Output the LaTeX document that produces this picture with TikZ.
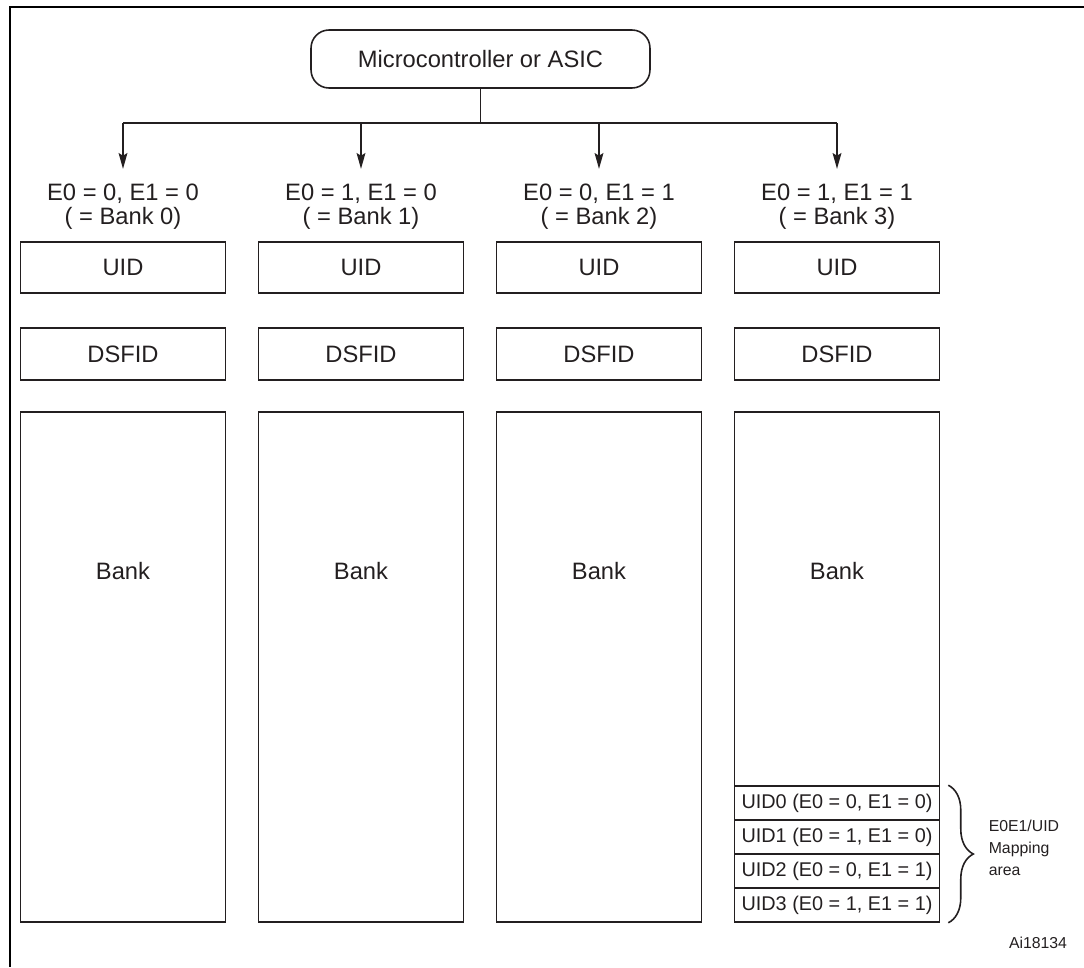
\documentclass[tikz,border=0pt]{standalone}
\usepackage{fontspec}
\setmainfont{Liberation Sans}
\usetikzlibrary{arrows.meta,decorations.pathreplacing}
\definecolor{ink}{HTML}{231F20}

\begin{document}
\begin{tikzpicture}[x=0.02cm, y=-0.02cm, line width=0.9pt, color=ink,
	>={Stealth[length=9pt, width=5pt, inset=1.5pt]}]
	\tikzstyle{every node} = [font=\fontsize{13.5}{16}\selectfont]
	\tikzstyle{cell} = [draw, rectangle, minimum width=4.1cm, inner sep=0pt]
	\tikzstyle{banklabel} = [align=center, inner ysep=8pt, font=\fontsize{13.5}{13.7}\selectfont]
	\tikzstyle{maprow} = [cell, minimum height=0.68cm, font=\fontsize{11.3}{13}\selectfont]
	\useasboundingbox (0,0) rectangle (1084,967);
	\draw [line width=1.7pt, black] (1084,7) -- (10,7) -- (10,967);

	\node [draw, rounded corners=0.36cm, minimum width=6.78cm, minimum height=1.16cm]
		(mcu) at (480.5,59) {Microcontroller or ASIC};
	\coordinate (bus) at (480.5,123);

	\node [banklabel] (lab0) at (123,206.5) {E0 = 0, E1 = 0\\( = Bank 0)};
	\node [banklabel] (lab1) at (361,206.5) {E0 = 1, E1 = 0\\( = Bank 1)};
	\node [banklabel] (lab2) at (599,206.5) {E0 = 0, E1 = 1\\( = Bank 2)};
	\node [banklabel] (lab3) at (837,206.5) {E0 = 1, E1 = 1\\( = Bank 3)};

	\draw (mcu) -- (bus);
	\draw (lab0.north |- bus) -- (lab3.north |- bus);
	\draw [->] (lab0.north |- bus) -- (lab0.north);
	\draw [->] (lab1.north |- bus) -- (lab1.north);
	\draw [->] (lab2.north |- bus) -- (lab2.north);
	\draw [->] (lab3.north |- bus) -- (lab3.north);

	\node [cell, minimum height=1.02cm] (uid0) at (123,267.5) {UID};
	\node [cell, minimum height=1.02cm] (uid1) at (361,267.5) {UID};
	\node [cell, minimum height=1.02cm] (uid2) at (599,267.5) {UID};
	\node [cell, minimum height=1.02cm] (uid3) at (837,267.5) {UID};

	\node [cell, minimum height=1.04cm] (dsfid0) at (123,354) {DSFID};
	\node [cell, minimum height=1.04cm] (dsfid1) at (361,354) {DSFID};
	\node [cell, minimum height=1.04cm] (dsfid2) at (599,354) {DSFID};
	\node [cell, minimum height=1.04cm] (dsfid3) at (837,354) {DSFID};

	\node [cell, minimum height=10.2cm] (bank0) at (123,667) {};
	\node [cell, minimum height=10.2cm] (bank1) at (361,667) {};
	\node [cell, minimum height=10.2cm] (bank2) at (599,667) {};
	\node [cell, minimum height=10.2cm] (bank3) at (837,667) {};
	\node (bank0txt) at (123,571) {Bank};
	\node (bank1txt) at (361,571) {Bank};
	\node (bank2txt) at (599,571) {Bank};
	\node (bank3txt) at (837,571) {Bank};

	\node [maprow] (map0) at (837,803) {UID0 (E0 = 0, E1 = 0)};
	\node [maprow] (map1) at (837,837) {UID1 (E0 = 1, E1 = 0)};
	\node [maprow] (map2) at (837,871) {UID2 (E0 = 0, E1 = 1)};
	\node [maprow] (map3) at (837,905) {UID3 (E0 = 1, E1 = 1)};

	\draw [decorate, decoration={brace, amplitude=0.5cm}]
		([xshift=0.16cm]map0.north east) -- ([xshift=0.16cm]map3.south east);
	\node [anchor=west, align=left, inner sep=0pt, font=\fontsize{9}{12.5}\selectfont]
		(maptxt) at (988,848) {E0E1/UID\\Mapping\\area};
	\node [font=\fontsize{9}{11}\selectfont] (figid) at (1038,943) {Ai18134};
\end{tikzpicture}
\end{document}
